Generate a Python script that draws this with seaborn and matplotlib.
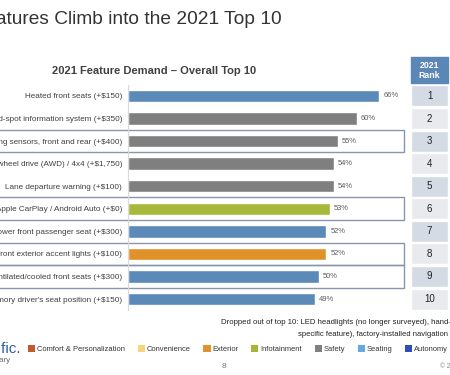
import numpy as np
import pandas as pd
import matplotlib
matplotlib.use("Agg")
import matplotlib.pyplot as plt
import seaborn as sns
from matplotlib.patches import Rectangle, Patch
from matplotlib.transforms import blended_transform_factory

# ---------------- data ----------------
features = [
    "Heated front seats (+$150)",
    "Blind-spot information system (+$350)",
    "Parking sensors, front and rear (+$400)",
    "All-wheel drive (AWD) / 4x4 (+$1,750)",
    "Lane departure warning (+$100)",
    "Apple CarPlay / Android Auto (+$0)",
    "Power front passenger seat (+$300)",
    "LED front exterior accent lights (+$100)",
    "Ventilated/cooled front seats (+$300)",
    "Memory driver's seat position (+$150)",
]
demand = [66, 60, 55, 54, 54, 53, 52, 52, 50, 49]
category = ["Seating", "Safety", "Safety", "Safety", "Safety",
            "Infotainment", "Seating", "Exterior", "Seating", "Seating"]
ranks = [1, 2, 3, 4, 5, 6, 7, 8, 9, 10]
boxed_rows = [3, 6, 8, 9]  # ranks highlighted with an outline

legend_labels = ["Comfort & Personalization", "Convenience", "Exterior",
                 "Infotainment", "Safety", "Seating", "Autonomy"]
legend_colors = ["#c6582e", "#f3d67e", "#e0922f", "#a8b43a", "#808080",
                 "#64a9e2", "#2f4fb8"]
bar_palette = {"Seating": "#5b8ab9", "Safety": "#7f7f7f",
               "Infotainment": "#a8b83a", "Exterior": "#e0922a"}

# ---------------- figure ----------------
sns.set_style("white")
plt.rcParams["font.family"] = ["Liberation Sans", "DejaVu Sans"]

W, H = 450, 375
fig = plt.figure(figsize=(4.5, 3.75), dpi=100)
fig.patch.set_facecolor("white")

def fy(py):
    return 1 - py / H

top_px, bot_px = 84.7, 310.3
ax = fig.add_axes([128 / W, fy(bot_px), (404 - 128) / W, (bot_px - top_px) / H])
ax.set_facecolor("none")

df = pd.DataFrame({"feature": features, "value": demand, "category": category})
sns.barplot(data=df, x="value", y="feature", hue="category", palette=bar_palette,
            dodge=False, width=0.55, ax=ax, legend=False, orient="h",
            saturation=1)
ax.set_xlim(0, 276 / 3.81)
ax.set_ylim(9.5, -0.5)
ax.set_xticks([])
ax.set_xlabel("")
ax.set_ylabel("")
ax.tick_params(axis="y", length=0, pad=4.3, labelsize=5.9, labelcolor="#404040")
for s in ["top", "right", "bottom"]:
    ax.spines[s].set_visible(False)
ax.spines["left"].set_color("#d9d9d9")
ax.spines["left"].set_linewidth(0.8)

for i, v in enumerate(demand):
    ax.annotate(f"{v}%", xy=(v, i), xytext=(3, 0), textcoords="offset points",
                ha="left", va="center", fontsize=5.4, color="#595959")

trans = blended_transform_factory(ax.transAxes, ax.transData)
for r in boxed_rows:
    ax.add_patch(Rectangle((-0.6, r - 1 - 0.5), 1.6, 1.0, fill=False,
                           ec="#8796ab", lw=1.0, clip_on=False, transform=trans))

ax.text(154 / W, fy(71), "2021 Feature Demand \u2013 Overall Top 10",
        transform=fig.transFigure, ha="center", va="center",
        fontsize=8.0, fontweight="bold", color="#404040")

# ---------------- rank table ----------------
ax2 = fig.add_axes([411 / W, fy(bot_px), 37 / W, (bot_px - top_px) / H])
cell_colors = ["#d5dbe5" if k % 2 == 1 else "#e8eaee" for k in ranks]
ax2.barh(np.arange(len(ranks)), 1, height=0.93, color=cell_colors)
ax2.set_xlim(0, 1)
ax2.set_ylim(9.5, -0.5)
ax2.axis("off")
for i, rk in enumerate(ranks):
    ax2.text(0.5, i, str(rk), ha="center", va="center", fontsize=7, color="#222222")
ax2.add_patch(Rectangle((0, -1.73), 1, 1.155, color="#5b87b6", clip_on=False))
ax2.text(0.5, -1.15, "2021\nRank", ha="center", va="center", fontsize=6.3,
         fontweight="bold", color="white", linespacing=1.15)

# ---------------- slide text ----------------
fig.text(282 / W, fy(20), "New Features Climb into the 2021 Top 10",
         ha="right", va="center", fontsize=13.8, color="#333333")

fig.text(221 / W, fy(323),
         "Dropped out of top 10: LED headlights (no longer surveyed), hand-free liftgate",
         ha="left", va="center", fontsize=5.6, color="#222222")
fig.text(448 / W, fy(334), "specific feature), factory-installed navigation",
         ha="right", va="center", fontsize=5.5, color="#222222")

fig.text(21 / W, fy(349), "AutoPacific.", ha="right", va="center",
         fontsize=11, color="#2f5fa8")
fig.text(11 / W, fy(361), "Proprietary", ha="right", va="center",
         fontsize=5.8, color="#666666")

fig.text(224 / W, fy(366), "8", ha="center", va="center", fontsize=6, color="#777777")
fig.text(440 / W, fy(366), "\u00a9 2021", ha="left", va="center", fontsize=4.8,
         color="#888888")

handles = [Patch(facecolor=c, edgecolor="none", label=l)
           for l, c in zip(legend_labels, legend_colors)]
fig.legend(handles=handles, loc="center left", bbox_to_anchor=(28 / W, fy(349)),
           ncol=7, frameon=False, fontsize=5.4, handlelength=0.95,
           handleheight=0.95, handletextpad=0.25, columnspacing=1.7,
           borderpad=0, borderaxespad=0, labelcolor="#333333")

fig.savefig("out.png", dpi=100)
